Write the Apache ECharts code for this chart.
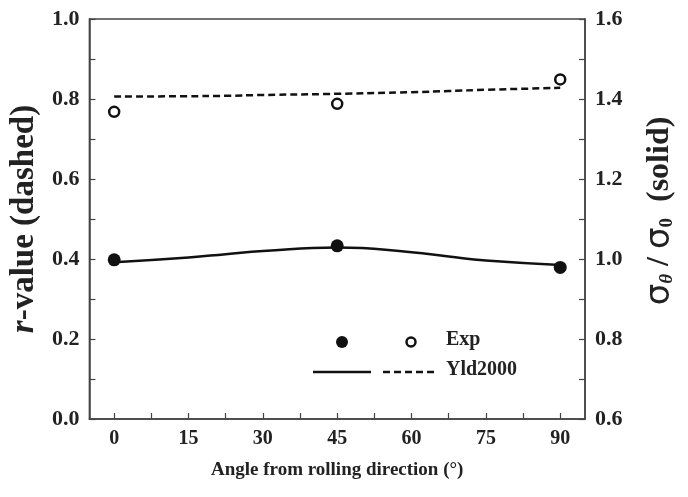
<!DOCTYPE html>
<html>
<head>
<meta charset="utf-8">
<script src="https://cdn.jsdelivr.net/npm/echarts@6/dist/echarts.min.js"></script>
<style>
  html, body { margin: 0; padding: 0; background: #fff; }
  #chart { width: 688px; height: 497px; }
</style>
</head>
<body>
<div id="chart"></div>
<script>
// angles (deg)
const expAngles = [0, 45, 90];
const modelAngles = [0, 15, 22.5, 30, 45, 60, 67.5, 75, 90];

// r-value (left axis)
const expR = [0.768, 0.788, 0.849];
const yldR = [0.806, 0.807, 0.808, 0.810, 0.813, 0.817, 0.820, 0.823, 0.828];

// normalized yield stress (right axis)
const expStress = [0.998, 1.033, 0.979];
const yldStress = [0.992, 1.004, 1.012, 1.020, 1.029, 1.017, 1.006, 0.996, 0.985];

const xLabels = [0, 15, 30, 45, 60, 75, 90];
const xTicks = [0, 7.5, 15, 22.5, 30, 37.5, 45, 52.5, 60, 67.5, 75, 82.5, 90];

const pair = (xs, ys) => xs.map((x, i) => [x, ys[i]]);

const font = 'Liberation Serif';
const ink = '#222';

const chart = echarts.init(document.getElementById('chart'));

const axisCommon = {
  axisLine: { show: true, onZero: false, lineStyle: { color: '#444', width: 1.5 } },
  axisTick: { show: true, inside: true, length: 6, lineStyle: { color: '#444', width: 1.2 } },
  minorTick: { show: true, splitNumber: 2, length: 6, lineStyle: { color: '#444', width: 1.2 } },
  splitLine: { show: false },
  axisLabel: { color: ink, fontFamily: font, fontWeight: 'bold', fontSize: 22 }
};

chart.setOption({
  animation: false,
  backgroundColor: '#fff',
  grid: {
    left: 89, right: 103, top: 19, bottom: 78,
    show: true, borderColor: '#444', borderWidth: 1.5, backgroundColor: 'transparent'
  },
  xAxis: {
    type: 'value',
    min: -5, max: 95,
    axisLine: { show: true, onZero: false, lineStyle: { color: '#444', width: 1.5 } },
    axisTick: { show: true, inside: true, length: 6, customValues: xTicks, lineStyle: { color: '#444', width: 1.2 } },
    splitLine: { show: false },
    axisLabel: { customValues: xLabels, color: ink, fontFamily: font, fontWeight: 'bold', fontSize: 20, margin: 10 },
    name: 'Angle from rolling direction (°)',
    nameLocation: 'middle',
    nameGap: 42,
    nameTextStyle: { color: ink, fontFamily: font, fontWeight: 'bold', fontSize: 19 }
  },
  yAxis: [
    Object.assign({}, axisCommon, {
      type: 'value', position: 'left',
      min: 0, max: 1, interval: 0.2,
      axisLabel: Object.assign({}, axisCommon.axisLabel, { formatter: v => v.toFixed(1), margin: 10 }),
      name: '{i|r}-value (dashed)',
      nameLocation: 'middle',
      nameRotate: 90,
      nameGap: 45,
      nameTextStyle: {
        color: ink, fontFamily: font, fontWeight: 'bold', fontSize: 33,
        rich: { i: { fontStyle: 'italic', fontWeight: 'bold', fontFamily: font, fontSize: 33, color: ink } }
      }
    }),
    Object.assign({}, axisCommon, {
      type: 'value', position: 'right',
      min: 0.6, max: 1.6, interval: 0.2,
      axisLabel: Object.assign({}, axisCommon.axisLabel, { formatter: v => v.toFixed(1), margin: 10 }),
      name: '{pad| }{s|σ}{sub|θ}{n| / }{s|σ}{sub0|0}{n|  (solid)}',
      nameLocation: 'middle',
      nameRotate: 90,
      nameGap: 58,
      nameTextStyle: {
        color: ink, fontFamily: font, fontWeight: 'bold', fontSize: 32,
        rich: {
          pad: { fontFamily: font, fontSize: 32, width: 16 },
          s: { fontFamily: 'DejaVu Sans', fontWeight: 'normal', fontSize: 34, color: ink },
          sub: { fontFamily: font, fontStyle: 'italic', fontSize: 19, color: ink, padding: [15, 0, 0, 0] },
          sub0: { fontFamily: font, fontSize: 19, color: ink, padding: [15, 0, 0, 0] },
          n: { fontFamily: font, fontWeight: 'bold', fontSize: 32, color: ink }
        }
      }
    })
  ],
  series: [
    {
      name: 'Yld2000 r', type: 'line', yAxisIndex: 0, smooth: true,
      data: pair(modelAngles, yldR), symbol: 'none',
      lineStyle: { color: '#111', width: 2.5, type: [7, 4] }
    },
    {
      name: 'Yld2000 stress', type: 'line', yAxisIndex: 1, smooth: true,
      data: pair(modelAngles, yldStress), symbol: 'none',
      lineStyle: { color: '#111', width: 2.5 }
    },
    {
      name: 'Exp r', type: 'scatter', yAxisIndex: 0,
      data: pair(expAngles, expR), symbol: 'circle', symbolSize: 10,
      itemStyle: { color: '#fff', borderColor: '#111', borderWidth: 2.5, opacity: 1 }, z: 5
    },
    {
      name: 'Exp stress', type: 'scatter', yAxisIndex: 1,
      data: pair(expAngles, expStress), symbol: 'circle', symbolSize: 13,
      itemStyle: { color: '#111', opacity: 1 }, z: 5
    }
  ],
  graphic: [
    { type: 'circle', shape: { cx: 342, cy: 342, r: 6 }, style: { fill: '#111' } },
    { type: 'circle', shape: { cx: 411, cy: 342, r: 4.5 }, style: { fill: '#fff', stroke: '#111', lineWidth: 2.5 } },
    { type: 'text', left: 446, top: 330, style: { text: 'Exp', font: 'bold 20px "Liberation Serif"', fill: ink } },
    { type: 'line', shape: { x1: 313, y1: 372, x2: 371, y2: 372 }, style: { stroke: '#111', lineWidth: 2.5 } },
    { type: 'line', shape: { x1: 383, y1: 372, x2: 436, y2: 372 }, style: { stroke: '#111', lineWidth: 2.5, lineDash: [7, 4] } },
    { type: 'text', left: 446, top: 360, style: { text: 'Yld2000', font: 'bold 20px "Liberation Serif"', fill: ink } }
  ]
});
</script>
</body>
</html>
